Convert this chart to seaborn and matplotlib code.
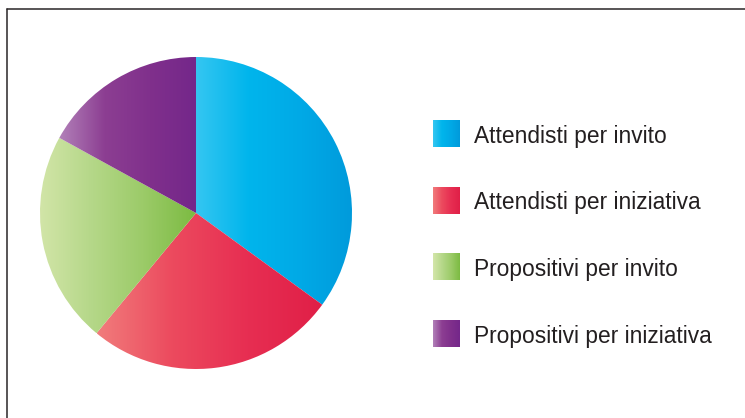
import numpy as np
import matplotlib
matplotlib.use("Agg")
import matplotlib.pyplot as plt
from matplotlib.colors import LinearSegmentedColormap
from matplotlib.lines import Line2D
import seaborn as sns

# Shares of each profile (percent)
categories = [
    "Attendisti per invito",
    "Attendisti per iniziativa",
    "Propositivi per invito",
    "Propositivi per iniziativa",
]
shares = [35, 26, 22, 17]

# Horizontal gradient stops (light on the left, dark on the right)
gradients = [
    ["#35C6F1", "#00B5EC", "#00A9E6", "#009ADB"],
    ["#F17C7C", "#EC4A5E", "#E72E52", "#E01F47"],
    ["#D4E6AA", "#B6D88A", "#9CCB69", "#7CBB42"],
    ["#B281B9", "#8C3E92", "#80308C", "#74278A"],
]

sns.set_theme(style="white")
plt.rcParams["font.family"] = ["Liberation Sans", "DejaVu Sans"]

W, H = 745, 418
fig = plt.figure(figsize=(W / 100, H / 100), dpi=100)
fig.patch.set_facecolor("white")

cmaps = [LinearSegmentedColormap.from_list(f"g{i}", c) for i, c in enumerate(gradients)]
ramp = np.linspace(0, 1, 256).reshape(1, -1)

# Pie
cx, cy, r = 196, 213, 156
ax = fig.add_axes([(cx - r) / W, (H - cy - r) / H, 2 * r / W, 2 * r / H])
wedges, _ = ax.pie(shares, startangle=90, counterclock=False,
                   wedgeprops=dict(linewidth=0))
ax.set_xlim(-1, 1)
ax.set_ylim(-1, 1)
ax.set_axis_off()
for w, cm in zip(wedges, cmaps):
    verts = w.get_path().vertices
    x0, x1 = verts[:, 0].min(), verts[:, 0].max()
    y0, y1 = verts[:, 1].min(), verts[:, 1].max()
    img = ax.imshow(ramp, cmap=cm, aspect="auto", extent=[x0, x1, y0, y1],
                    interpolation="bilinear", zorder=2)
    img.set_clip_path(w)
    w.set_facecolor("none")
ax.set_xlim(-1, 1)
ax.set_ylim(-1, 1)

# Legend with gradient swatches
lax = fig.add_axes([0, 0, 1, 1])
lax.set_xlim(0, W)
lax.set_ylim(H, 0)
lax.set_axis_off()
lax.patch.set_alpha(0)
row_y = [133.5, 200.5, 267, 333.5]
sw = 26.5
for yc, label, cm in zip(row_y, categories, cmaps):
    lax.imshow(ramp, cmap=cm, aspect="auto",
               extent=[433, 433 + sw, yc + sw / 2, yc - sw / 2],
               interpolation="bilinear")
    lax.text(474, yc, label, fontsize=16.4, color="#231F20",
             va="center_baseline", ha="left")
lax.set_xlim(0, W)
lax.set_ylim(H, 0)

# Frame lines along top and left
frame_col = "#2A2627"
fig.add_artist(Line2D([7 / W, 1], [1 - 9.3 / H, 1 - 9.3 / H],
                      transform=fig.transFigure, color=frame_col, lw=1.1))
fig.add_artist(Line2D([7 / W, 7 / W], [1 - 9.3 / H, 0],
                      transform=fig.transFigure, color=frame_col, lw=1.1))

fig.savefig("out.png", dpi=100, facecolor="white")
